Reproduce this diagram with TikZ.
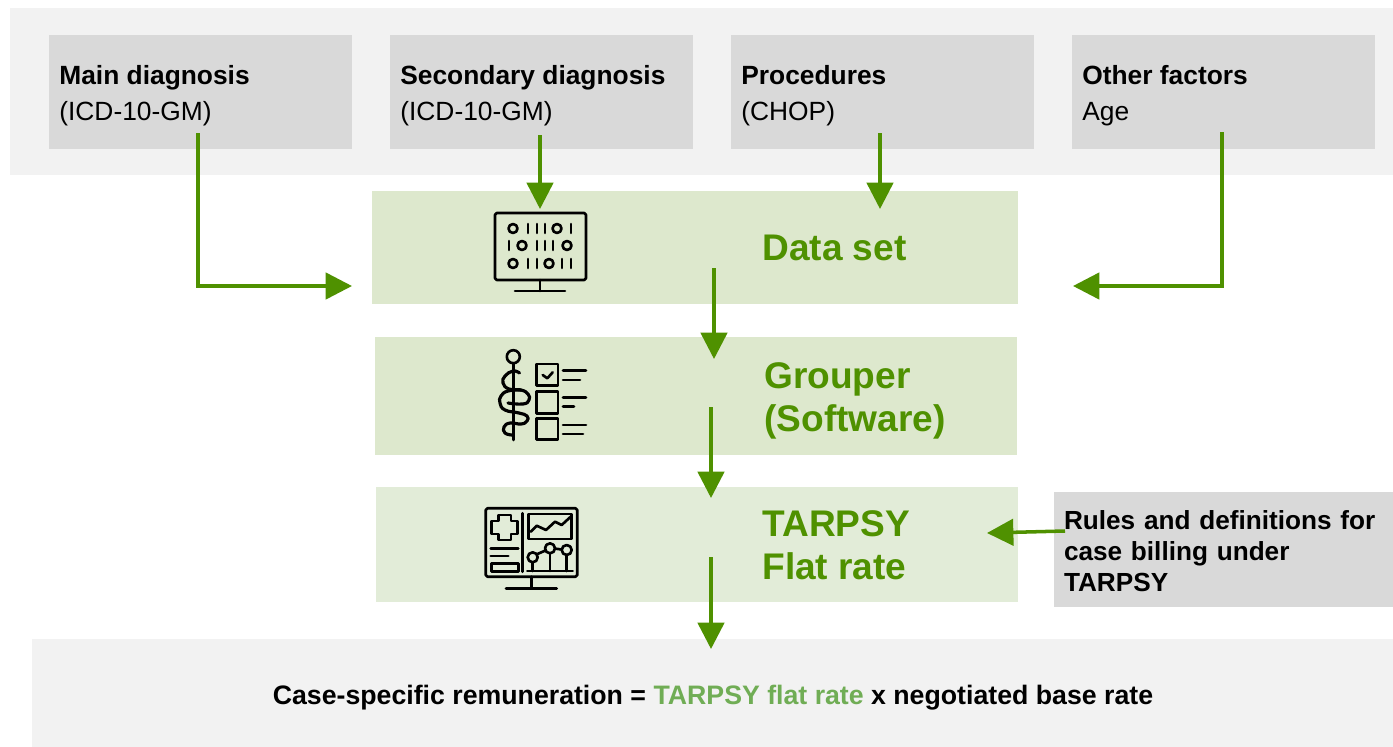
\documentclass[tikz,border=0pt]{standalone}
\usepackage{fontspec}
\setmainfont{Liberation Sans}
\usetikzlibrary{arrows.meta}

\definecolor{bandgray}{HTML}{F2F2F2}
\definecolor{boxgray}{HTML}{D9D9D9}
\definecolor{stepgreen}{HTML}{DDE8CD}
\definecolor{ratestep}{HTML}{E2ECD8}
\definecolor{arrowgreen}{HTML}{4F9100}
\definecolor{lightgreen}{HTML}{70AD55}

\tikzset{
  band/.style={fill=bandgray, inner sep=0pt},
  inputbox/.style={fill=boxgray, inner sep=0pt, minimum width=303*0.02cm, minimum height=114*0.02cm},
  inputlabel/.style={anchor=west, inner sep=0pt, align=left, font=\fontsize{15}{20.4}\selectfont},
  stepbox/.style={inner sep=0pt},
  steplabel/.style={anchor=west, inner sep=0pt, align=left, text=arrowgreen, font=\fontsize{21.1}{24.4}\selectfont\bfseries},
  flow/.style={draw=arrowgreen, line width=2pt, -{Triangle[length=15pt,width=15pt]}},
  icon/.style={line width=1.5pt, black, line cap=round, line join=round},
}

\begin{document}
\begin{tikzpicture}[x=0.02cm, y=-0.02cm]
  \useasboundingbox (0,0) rectangle (1393,747);

  % grey bands
  \node[band, minimum width=1383*0.02cm, minimum height=167*0.02cm] (topband) at (701.5,91.5) {};
  \node[band, minimum width=1361*0.02cm, minimum height=108*0.02cm] (resultband) at (712.5,693) {};
  \node[inner sep=0pt, font=\fontsize{15.2}{18}\selectfont\bfseries] (result) at (713,698)
    {Case-specific remuneration = \textcolor{lightgreen}{TARPSY flat rate} x negotiated base rate};

  % inputs
  \node[inputbox] (maindiag) at (200.5,92) {};
  \node[inputbox] (secdiag) at (541.5,92) {};
  \node[inputbox] (procedures) at (882.5,92) {};
  \node[inputbox] (otherfactors) at (1223.5,92) {};
  \node[inputlabel] (maindiaglabel) at (59,96) {\textbf{Main diagnosis}\\(ICD-10-GM)};
  \node[inputlabel] (secdiaglabel) at (400,96) {\textbf{Secondary diagnosis}\\(ICD-10-GM)};
  \node[inputlabel] (procedureslabel) at (741,96) {\textbf{Procedures}\\(CHOP)};
  \node[inputlabel] (otherfactorslabel) at (1082,96) {\textbf{Other factors}\\Age};

  % steps
  \node[stepbox, fill=stepgreen, minimum width=646*0.02cm, minimum height=113*0.02cm] (dataset) at (695,247.5) {};
  \node[stepbox, fill=stepgreen, minimum width=642*0.02cm, minimum height=118*0.02cm] (grouper) at (696,396) {};
  \node[stepbox, fill=ratestep, minimum width=642*0.02cm, minimum height=115*0.02cm] (flatrate) at (697,544.5) {};
  \node[steplabel] (datasetlabel) at (762,248) {Data set};
  \node[steplabel] (grouperlabel) at (764,401) {Grouper\\(Software)};
  \node[steplabel] (flatratelabel) at (762,545.5) {TARPSY\\Flat rate};

  \node[fill=boxgray, inner sep=0pt, minimum width=339*0.02cm, minimum height=115*0.02cm, align=left, text width=319*0.02cm, font=\fontsize{14.9}{17.6}\selectfont\bfseries] (rules) at (1223.5,549.5)
    {\rule{0pt}{13pt}Rules and definitions for\\case billing under\\TARPSY};

  % arrow ends
  \coordinate (mainstart) at (198,133);
  \coordinate (mainbend) at (198,286);
  \coordinate (mainend) at (352,286);
  \coordinate (secstart) at (540,135);
  \coordinate (secend) at (540,209);
  \coordinate (procstart) at (880,133);
  \coordinate (procend) at (880,209);
  \coordinate (otherstart) at (1222,132);
  \coordinate (otherbend) at (1222,286);
  \coordinate (otherend) at (1073,286);
  \coordinate (datastart) at (714,268);
  \coordinate (dataend) at (714,359);
  \coordinate (groupstart) at (711,407);
  \coordinate (groupend) at (711,498);
  \coordinate (ratestart) at (711,557);
  \coordinate (rateend) at (711,649);
  \coordinate (rulestart) at (1065,531);
  \coordinate (ruleend) at (987,533);

  \draw[flow] (mainstart) -- (mainbend) -- (mainend);
  \draw[flow] (secstart) -- (secend);
  \draw[flow] (procstart) -- (procend);
  \draw[flow] (otherstart) -- (otherbend) -- (otherend);
  \draw[flow] (datastart) -- (dataend);
  \draw[flow] (groupstart) -- (groupend);
  \draw[flow] (ratestart) -- (rateend);
  \draw[flow] (rulestart) -- (ruleend);

  % data set icon
  \draw[icon, rounded corners=1pt] (495,213) rectangle (586,280);
  \draw[icon] (540,280) -- (540,291) (515,291) -- (565,291);
  \foreach \x in {513,557} \draw[icon] (\x,228.5) circle (4.5);
  \foreach \x in {528,537,545,571} \draw[icon] (\x,224) -- (\x,233);
  \foreach \x in {522,567} \draw[icon] (\x,245.5) circle (4.5);
  \foreach \x in {509,537,545,553} \draw[icon] (\x,241) -- (\x,250);
  \foreach \x in {513,549} \draw[icon] (\x,263.5) circle (4.5);
  \foreach \x in {528,537,562,571} \draw[icon] (\x,259) -- (\x,268);

  % grouper icon
  \draw[icon] (513.3,356.7) circle (6.5);
  \draw[icon] (513.3,363.2) -- (513.3,440);
  \draw[icon, line width=1.8pt] plot[smooth, tension=0.8] coordinates {(519.5,373) (513,371) (505,376) (503,383) (509,389) (521,390) (528,394) (529,400) (523,404) (508,403)};
  \draw[icon, line width=1.8pt] plot[smooth, tension=0.8] coordinates {(521,390) (508,391) (501,396) (500,403) (505,410) (519,413) (527,416) (527,421) (521,424) (510,423) (504,427) (505,433) (512,435)};
  \foreach \y in {364,391.7,418.3} \draw[icon] (536.7,\y) rectangle (558,\y+21.5);
  \draw[icon] (542.7,375) -- (547.3,378.3) -- (552.7,372.3);
  \draw[icon] (563,370.7) -- (586,370.7) (563,380) -- (580,380);
  \draw[icon] (563,397.7) -- (586,397.7) (563,406.7) -- (574,406.7);
  \draw[icon] (563,425) -- (586,425) (563,434) -- (583,434);

  % flat rate icon
  \draw[icon, rounded corners=1pt] (485.7,508.3) rectangle (577.3,576.7);
  \draw[icon] (531.7,576.7) -- (531.7,588.3) (506,588.3) -- (556.7,588.3);
  \draw[icon] (522.7,513.3) -- (522.7,571.7);
  \draw[icon] (498.3,515) -- (511,515) -- (511,521) -- (517.3,521) -- (517.3,534) -- (511,534) -- (511,540) -- (498.3,540) -- (498.3,534) -- (491.7,534) -- (491.7,521) -- (498.3,521) -- cycle;
  \draw[icon] (490.7,548.3) -- (518.3,548.3) (490.7,556) -- (508.3,556);
  \draw[icon] (491.7,563.3) rectangle (518.3,571.7);
  \draw[icon] (528.3,514) rectangle (571.7,539);
  \draw[icon] (530.7,531.7) -- (536.7,525.7) -- (546,530) -- (555,521.7) -- (561.7,525) -- (570.7,516.7);
  \draw[icon] (527.3,571) -- (572.7,571);
  \draw[icon] (532.7,557.3) circle (5) (550,548.3) circle (5) (566.7,550) circle (5);
  \draw[icon] (532.7,562.3) -- (532.7,571) (550,553.3) -- (550,571) (566.7,555) -- (566.7,571);
  \draw[icon] (536.7,554.3) -- (545.5,550.5) (555,548.6) -- (561.7,549.5);
\end{tikzpicture}
\end{document}
